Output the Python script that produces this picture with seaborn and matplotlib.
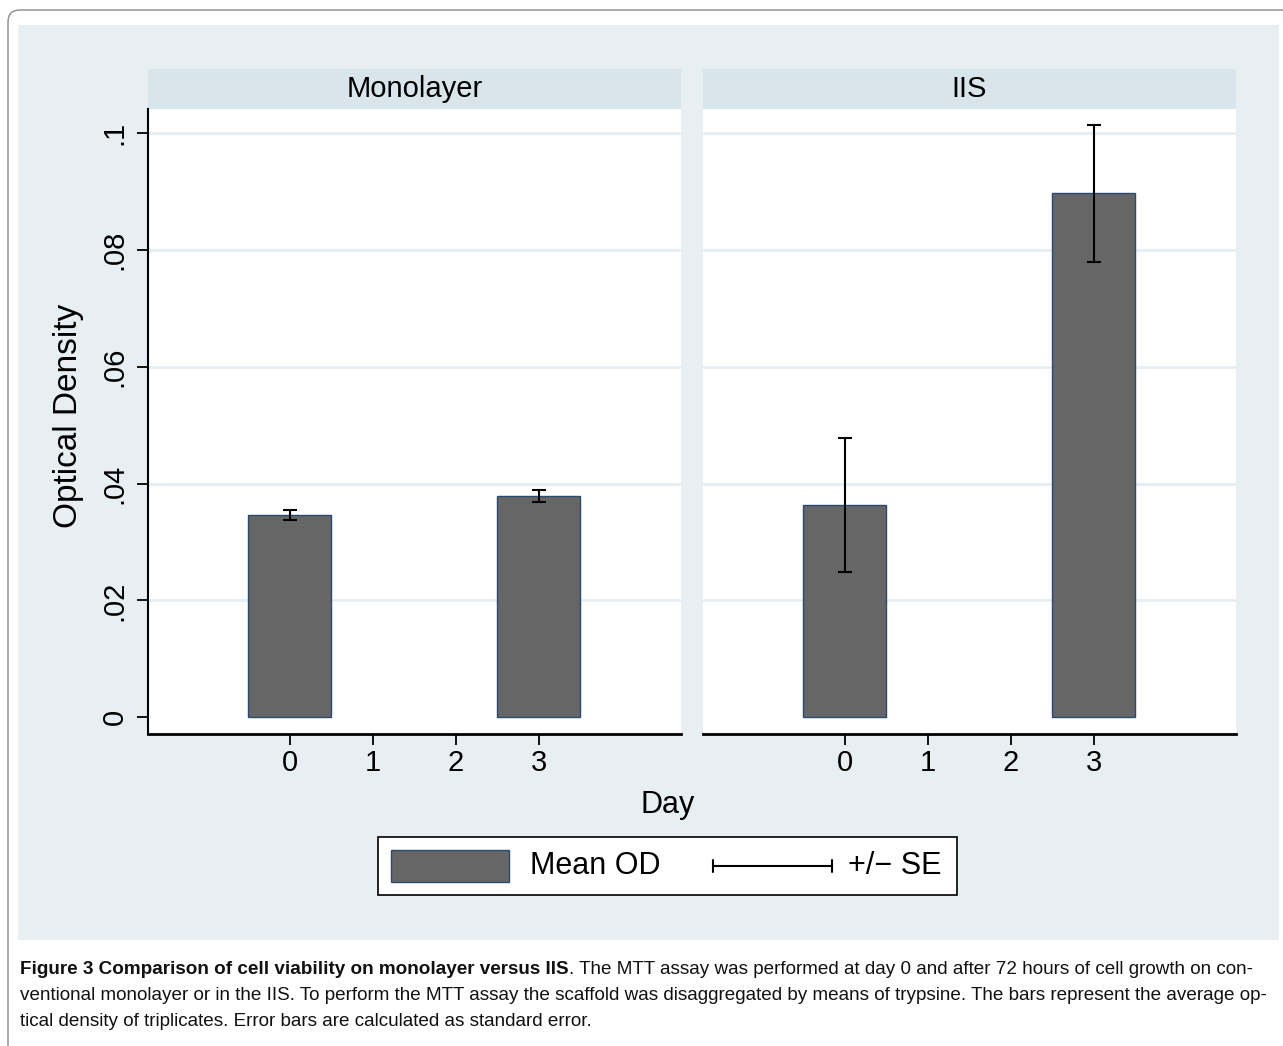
#!/usr/bin/env python3
"""Mean optical density (MTT assay) on monolayer versus IIS, day 0 and day 3."""

import matplotlib

matplotlib.use("Agg")

import matplotlib.pyplot as plt
import pandas as pd
import seaborn as sns
from matplotlib.patches import FancyBboxPatch, Rectangle
from matplotlib.transforms import IdentityTransform

PANELS = ["Monolayer", "IIS"]
DAYS = [0, 3]
MONOLAYER_MEAN = [0.0346, 0.0379]
MONOLAYER_SE = [0.0009, 0.0010]
IIS_MEAN = [0.0363, 0.0897]
IIS_SE = [0.0115, 0.0117]
X_TICKS = [0, 1, 2, 3]
Y_TICKS = [0, 0.02, 0.04, 0.06, 0.08, 0.1]
Y_TICK_LABELS = ["0", ".02", ".04", ".06", ".08", ".1"]
Y_LABEL = "Optical Density"
X_LABEL = "Day"
LEGEND_LABELS = ["Mean OD", "+/\u2212 SE"]
CAPTION_BOLD = "Figure 3 Comparison of cell viability on monolayer versus IIS"
CAPTION_LINES = [
    ". The MTT assay was performed at day 0 and after 72 hours of cell growth on con-",
    "ventional monolayer or in the IIS. To perform the MTT assay the scaffold was "
    "disaggregated by means of trypsine. The bars represent the average op-",
    "tical density of triplicates. Error bars are calculated as standard error.",
]

W, H = 1283, 1046
BAR = "#666666"
BAR_EDGE = "#2b4a70"
BG = "#e8eff2"
STRIP = "#d8e5eb"
GRID = "#e6eef2"
FS = 21

sns.set_theme(style="white")
plt.rcParams["font.family"] = ["Liberation Sans", "DejaVu Sans"]

df = pd.DataFrame(
    {
        "panel": [PANELS[0]] * 2 + [PANELS[1]] * 2,
        "day": DAYS + DAYS,
        "od": MONOLAYER_MEAN + IIS_MEAN,
        "se": MONOLAYER_SE + IIS_SE,
    }
)

fig = plt.figure(figsize=(W / 100, H / 100), dpi=100)
fig.patch.set_facecolor("white")
px = IdentityTransform()

# outer frame and shaded graph region (pixel coordinates, origin bottom-left)
fig.add_artist(
    FancyBboxPatch(
        (8, -40), 1320, H - 10 + 40,
        boxstyle="round,pad=0,rounding_size=12",
        facecolor="white", edgecolor="#8a8a8a", linewidth=1.0, transform=px,
        zorder=-20,
    )
)
fig.add_artist(Rectangle((18, H - 940), 1279 - 18, 940 - 25, facecolor=BG,
                         edgecolor="none", transform=px, zorder=-10))

left_px = [148, 703]
panel_w, top_px, bottom_px = 533, 109, 734
strip_h = 40

for i, name in enumerate(PANELS):
    ax = fig.add_axes([left_px[i] / W, 1 - bottom_px / H, panel_w / W,
                       (bottom_px - top_px) / H])
    ax.set_facecolor("white")
    sub = df[df["panel"] == name]
    sns.barplot(data=sub, x="day", y="od", native_scale=True, width=1 / 3,
                color=BAR, edgecolor=BAR_EDGE, linewidth=1.0, saturation=1,
                errorbar=None, ax=ax, zorder=2)
    ax.errorbar(sub["day"], sub["od"], yerr=sub["se"], fmt="none",
                ecolor="black", elinewidth=1.5, capsize=4.8, capthick=1.5,
                zorder=3)
    for y in Y_TICKS[1:]:
        ax.axhline(y, color=GRID, linewidth=2, zorder=0)

    ax.set_xlim(-1.707, 4.714)
    ax.set_ylim(-0.00286, 0.1041)
    ax.set_xticks(X_TICKS)
    ax.set_xticklabels([str(t) for t in X_TICKS])
    ax.set_xlabel("")
    ax.set_ylabel("")
    ax.tick_params(axis="x", length=8, width=1.3, color="black", pad=3,
                   labelsize=FS, labelcolor="black", bottom=True)
    for s in ["top", "right"]:
        ax.spines[s].set_visible(False)
    ax.spines["bottom"].set_color("black")
    ax.spines["bottom"].set_linewidth(2)
    if i == 0:
        ax.spines["left"].set_color("black")
        ax.spines["left"].set_linewidth(1.5)
        ax.set_yticks(Y_TICKS)
        ax.set_yticklabels(Y_TICK_LABELS, rotation=90, va="center")
        ax.tick_params(axis="y", length=8, width=1.3, color="black", pad=6,
                       labelsize=FS, labelcolor="black", left=True)
    else:
        ax.spines["left"].set_visible(False)
        ax.set_yticks([])

    ax.add_patch(Rectangle((0, 1), 1, strip_h / (bottom_px - top_px),
                           transform=ax.transAxes, facecolor=STRIP,
                           edgecolor="none", clip_on=False))
    ax.text(0.5, 1 + strip_h / 2 / (bottom_px - top_px), name,
            transform=ax.transAxes, ha="center", va="center", fontsize=FS,
            color="black")

fig.text(68 / W, 1 - 416 / H, Y_LABEL, rotation=90, ha="center", va="center",
         fontsize=24, color="black")
fig.text(668 / W, 1 - 805 / H, X_LABEL, ha="center", va="center",
         fontsize=22, color="black")

# legend box
fig.add_artist(Rectangle((378, H - 895), 957 - 378, 895 - 837, facecolor="white",
                         edgecolor="black", linewidth=1.2, transform=px))
fig.add_artist(Rectangle((391, H - 882), 509 - 391, 32, facecolor=BAR,
                         edgecolor=BAR_EDGE, linewidth=1.0, transform=px))
fig.text(530 / W, 1 - 866 / H, LEGEND_LABELS[0], ha="left", va="center",
         fontsize=22, color="black")
fig.add_artist(plt.Line2D([713, 832], [H - 866, H - 866], color="black",
                          linewidth=1.5, transform=px))
for xc in (713, 832):
    fig.add_artist(plt.Line2D([xc, xc], [H - 872, H - 860], color="black",
                              linewidth=1.5, transform=px))
fig.text(848 / W, 1 - 866 / H, LEGEND_LABELS[1], ha="left", va="center",
         fontsize=22, color="black")

# caption
cap_font = ["Liberation Sans", "DejaVu Sans"]
CFS = 13.6
renderer = fig.canvas.get_renderer()
t = fig.text(20 / W, 1 - 970 / H, CAPTION_BOLD, ha="left", va="center",
             fontsize=CFS, fontweight="bold", family=cap_font, color="#111111")
bb = t.get_window_extent(renderer)
fig.text(bb.x1 / W, 1 - 970 / H, CAPTION_LINES[0], ha="left", va="center",
         fontsize=CFS, family=cap_font, color="#111111")
fig.text(20 / W, 1 - 996 / H, CAPTION_LINES[1], ha="left", va="center",
         fontsize=CFS, family=cap_font, color="#111111")
fig.text(20 / W, 1 - 1021 / H, CAPTION_LINES[2], ha="left", va="center",
         fontsize=CFS, family=cap_font, color="#111111")

fig.savefig("out.png", dpi=100)
